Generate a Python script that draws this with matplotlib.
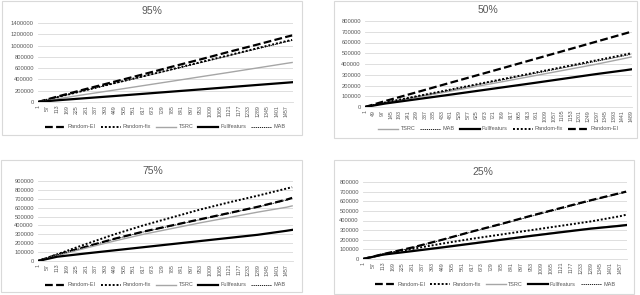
import matplotlib.pyplot as plt
from matplotlib.patches import Rectangle

plt.rcParams['font.family'] = ['Liberation Sans', 'DejaVu Sans']

# puntos de lectura (eje x) y valores
xs = [1, 113, 281, 449, 617, 785, 953, 1121, 1289, 1457, 1490]

# 95%
ei_95   = [0, 95000, 230000, 360000, 490000, 625000, 755000, 890000, 1020000, 1155000, 1180000]
fix_95  = [0, 85000, 210000, 335000, 455000, 580000, 705000, 830000, 955000, 1080000, 1100000]
mab_95  = [0, 84000, 207000, 330000, 450000, 573000, 697000, 821000, 945000, 1070000, 1090000]
tsrc_95 = [0, 55000, 135000, 212000, 290000, 368000, 447000, 525000, 605000, 685000, 700000]
full_95 = [0, 30000, 68000, 106000, 145000, 184000, 223000, 263000, 303000, 342000, 350000]

# 50%
ei_50   = [0, 55000, 133000, 212000, 290000, 368000, 447000, 526000, 605000, 684000, 700000]
fix_50  = [0, 42000, 97000, 152000, 208000, 264000, 320000, 376000, 432000, 488000, 500000]
mab_50  = [0, 40000, 94000, 148000, 203000, 258000, 313000, 368000, 423000, 478000, 490000]
tsrc_50 = [0, 36000, 87000, 138000, 189000, 240000, 292000, 344000, 396000, 453000, 465000]
full_50 = [0, 32000, 70000, 108000, 147000, 186000, 225000, 265000, 305000, 342000, 350000]

# 75%
ei_75   = [0, 70000, 160000, 250000, 330000, 400000, 470000, 540000, 610000, 690000, 710000]
fix_75  = [0, 75000, 190000, 300000, 400000, 490000, 580000, 660000, 735000, 815000, 830000]
mab_75  = [0, 68000, 158000, 246000, 326000, 396000, 466000, 536000, 606000, 685000, 705000]
tsrc_75 = [0, 62000, 145000, 225000, 300000, 365000, 430000, 490000, 550000, 605000, 620000]
full_75 = [0, 48000, 85000, 120000, 155000, 190000, 225000, 260000, 295000, 340000, 350000]

# 25%
ei_25   = [0, 50000, 120000, 200000, 285000, 365000, 450000, 530000, 610000, 685000, 700000]
fix_25  = [0, 48000, 105000, 160000, 210000, 255000, 300000, 345000, 390000, 445000, 460000]
mab_25  = [0, 49000, 118000, 197000, 281000, 360000, 444000, 524000, 604000, 680000, 695000]
tsrc_25 = [0, 45000, 85000, 125000, 165000, 205000, 245000, 283000, 320000, 350000, 358000]
full_25 = [0, 45000, 82000, 120000, 160000, 200000, 240000, 278000, 315000, 345000, 352000]

W, H = 640, 295
gris = '#595959'

estilos = {
    'Random-EI': dict(color='black', lw=1.6, linestyle=(0, (3.5, 1.5))),
    'Random-fix': dict(color='black', lw=1.4, linestyle=(0, (1, 1))),
    'TSRC': dict(color='#a6a6a6', lw=1.0, linestyle='-'),
    'Fullfeaturs': dict(color='black', lw=1.6, linestyle='-'),
    'MAB': dict(color='black', lw=0.6, linestyle=(0, (1.5, 1))),
}

fig = plt.figure(figsize=(6.4, 2.95), dpi=100)


def caja(l, t, r, b):
    fig.patches.append(Rectangle((l / W, 1 - b / H), (r - l) / W, (b - t) / H,
                                 transform=fig.transFigure, fill=False,
                                 edgecolor='#d9d9d9', lw=0.8))


def panel(pos, titulo, tpos, ymax, paso, series, orden, xstep, ley_y):
    l, t, r, b = pos
    ax = fig.add_axes([l / W, 1 - b / H, (r - l) / W, (b - t) / H])
    for nombre in orden:
        ax.plot(xs, series[nombre], label=nombre, **estilos[nombre])
    ax.set_xlim(1, 1495)
    ax.set_ylim(0, ymax)
    ax.set_yticks(range(0, ymax + 1, paso))
    ax.set_yticklabels([str(v) for v in range(0, ymax + 1, paso)])
    ax.set_xticks(range(1, 1490, xstep))
    ax.tick_params(axis='x', labelrotation=90, labelsize=3.8, colors=gris, length=0, pad=2)
    ax.tick_params(axis='y', labelsize=4.2, colors=gris, length=0, pad=3)
    ax.grid(axis='y', color='#d9d9d9', lw=0.6)
    ax.set_axisbelow(True)
    for s in ['top', 'right', 'left']:
        ax.spines[s].set_visible(False)
    ax.spines['bottom'].set_color('#d9d9d9')
    ax.spines['bottom'].set_linewidth(0.6)
    fig.text(tpos[0] / W, 1 - tpos[1] / H, titulo, ha='center', va='center',
             fontsize=7.5, color=gris)
    ax.legend(loc='center', bbox_to_anchor=((l + r) / 2 / W, 1 - ley_y / H),
              bbox_transform=fig.transFigure, ncol=5, frameon=False,
              fontsize=4.0, handlelength=3.6, columnspacing=0.9, handletextpad=0.4,
              labelcolor=gris)
    return ax


orden_a = ['Random-EI', 'Random-fix', 'TSRC', 'Fullfeaturs', 'MAB']
orden_b = ['TSRC', 'MAB', 'Fullfeaturs', 'Random-fix', 'Random-EI']

caja(2, 1, 302, 135)
panel((38, 23, 293, 102), '95%', (152, 11), 1400000, 200000,
      {'Random-EI': ei_95, 'Random-fix': fix_95, 'TSRC': tsrc_95,
       'Fullfeaturs': full_95, 'MAB': mab_95}, orden_a, 56, 127)

caja(334, 1, 637, 138)
panel((365, 21, 632, 107), '50%', (488, 10), 800000, 100000,
      {'Random-EI': ei_50, 'Random-fix': fix_50, 'TSRC': tsrc_50,
       'Fullfeaturs': full_50, 'MAB': mab_50}, orden_b, 48, 129)

caja(1, 160, 302, 292)
panel((38, 181, 293, 261), '75%', (153, 171), 900000, 100000,
      {'Random-EI': ei_75, 'Random-fix': fix_75, 'TSRC': tsrc_75,
       'Fullfeaturs': full_75, 'MAB': mab_75}, orden_a, 56, 285)

caja(334, 160, 634, 294)
panel((363, 182, 627, 259), '25%', (483, 172), 800000, 100000,
      {'Random-EI': ei_25, 'Random-fix': fix_25, 'TSRC': tsrc_25,
       'Fullfeaturs': full_25, 'MAB': mab_25}, orden_a, 56, 284)

plt.savefig('out.png', dpi=100)
